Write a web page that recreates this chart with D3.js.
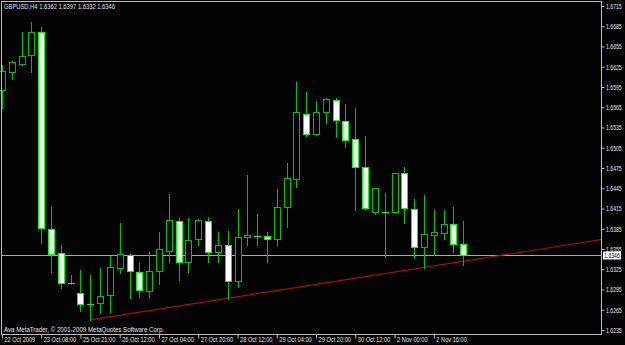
<!DOCTYPE html>
<html><head><meta charset="utf-8">
<script src="https://cdn.jsdelivr.net/npm/d3@7/dist/d3.min.js"></script>
<style>html,body{margin:0;padding:0;background:#030303;}svg{display:block;}</style>
</head><body><svg id="c" width="625" height="345"></svg>
<script>
const symbol = "GBPUSD,H4";
const times = ["2009.10.22 16:00","2009.10.22 20:00","2009.10.23 00:00","2009.10.23 04:00","2009.10.23 08:00","2009.10.23 12:00","2009.10.23 16:00","2009.10.23 20:00","2009.10.25 21:00","2009.10.26 00:00","2009.10.26 04:00","2009.10.26 08:00","2009.10.26 12:00","2009.10.26 16:00","2009.10.26 20:00","2009.10.27 00:00","2009.10.27 04:00","2009.10.27 08:00","2009.10.27 12:00","2009.10.27 16:00","2009.10.27 20:00","2009.10.28 00:00","2009.10.28 04:00","2009.10.28 08:00","2009.10.28 12:00","2009.10.28 16:00","2009.10.28 20:00","2009.10.29 00:00","2009.10.29 04:00","2009.10.29 08:00","2009.10.29 12:00","2009.10.29 16:00","2009.10.29 20:00","2009.10.30 00:00","2009.10.30 04:00","2009.10.30 08:00","2009.10.30 12:00","2009.10.30 16:00","2009.10.30 20:00","2009.11.01 21:00","2009.11.02 00:00","2009.11.02 04:00","2009.11.02 08:00","2009.11.02 12:00","2009.11.02 16:00","2009.11.02 20:00","2009.11.03 00:00","2009.11.03 04:00"];
const open  = [1.6591,1.6617,1.6629,1.6642,1.6676,1.6385,1.6349,1.6305,1.6290,1.6274,1.6275,1.6287,1.6327,1.6346,1.6321,1.6293,1.6322,1.6352,1.6396,1.6336,1.6370,1.6396,1.6351,1.6361,1.6308,1.6373,1.6374,1.6374,1.6370,1.6417,1.6459,1.6555,1.6525,1.6558,1.6576,1.6545,1.6518,1.6476,1.6410,1.6410,1.6410,1.6467,1.6415,1.6358,1.6376,1.6379,1.6392,1.6362];
const high  = [1.6628,1.6633,1.6677,1.6691,1.6684,1.6417,1.6361,1.6317,1.6324,1.6317,1.6327,1.6345,1.6393,1.6347,1.6334,1.6351,1.6380,1.6436,1.6401,1.6401,1.6399,1.6402,1.6380,1.6382,1.6414,1.6465,1.6407,1.6380,1.6444,1.6482,1.6602,1.6588,1.6574,1.6579,1.6578,1.6570,1.6564,1.6522,1.6446,1.6438,1.6468,1.6476,1.6429,1.6435,1.6413,1.6413,1.6417,1.6397];
const low   = [1.6564,1.6607,1.6628,1.6617,1.6364,1.6321,1.6297,1.6303,1.6263,1.6250,1.6260,1.6262,1.6319,1.6282,1.6284,1.6284,1.6303,1.6336,1.6309,1.6321,1.6361,1.6336,1.6336,1.6281,1.6299,1.6361,1.6361,1.6336,1.6361,1.6388,1.6447,1.6522,1.6524,1.6542,1.6521,1.6506,1.6413,1.6414,1.6407,1.6343,1.6408,1.6393,1.6342,1.6327,1.6346,1.6370,1.6351,1.6332];
const close = [1.6619,1.6632,1.6641,1.6676,1.6386,1.6348,1.6305,1.6304,1.6274,1.6274,1.6285,1.6328,1.6348,1.6322,1.6294,1.6322,1.6355,1.6398,1.6336,1.6368,1.6398,1.6351,1.6361,1.6308,1.6373,1.6376,1.6374,1.6370,1.6417,1.6460,1.6558,1.6525,1.6558,1.6577,1.6546,1.6517,1.6476,1.6416,1.6445,1.6410,1.6467,1.6416,1.6358,1.6377,1.6380,1.6392,1.6362,1.6346];
const priceTicks = [1.6715,1.6685,1.6655,1.6625,1.6595,1.6565,1.6535,1.6505,1.6475,1.6445,1.6415,1.6385,1.6355,1.6325,1.6295,1.6265,1.6235];
const timeTickIndex = [0,4,8,12,16,20,24,28,32,36,40,44];
const timeTickLabels = ["22 Oct 2009","23 Oct 08:00","25 Oct 21:00","26 Oct 12:00","27 Oct 04:00","27 Oct 20:00","28 Oct 12:00","29 Oct 04:00","29 Oct 20:00","30 Oct 12:00","2 Nov 00:00","2 Nov 16:00"];
const trendIndex = [9, 23];
const trendPrice = [1.6250, 1.6282];
const copyright = "Ava MetaTrader, \u00a9 2001-2009 MetaQuotes Software Corp.";

const W = 625, H = 345;
const plotL = 1.5, plotR = 601.5, plotT = 1.5, plotB = 334.5;
const svg = d3.select("#c");
svg.append("rect").attr("width", W).attr("height", H).attr("fill", "#030303");

const x = d3.scaleLinear().domain([0, times.length - 1]).range([1.9, 463.3]);
const y = d3.scaleLinear().domain([1.6235, 1.6715]).range([330, 6]);

const bars = times.map((t, i) => ({t, i, o: open[i], h: high[i], l: low[i], c: close[i]}));
const FONT = "'Liberation Sans', Arial, sans-serif";
const TXT = "#e6e6e6";
const G_DIM = "#00c000", G_BRIGHT = "#00ff00";

const clip = svg.append("clipPath").attr("id", "plot").append("rect")
  .attr("x", 0).attr("y", plotT).attr("width", plotR).attr("height", plotB - plotT);
const g = svg.append("g").attr("clip-path", "url(#plot)");

// current price line
g.append("line")
  .attr("x1", plotL).attr("x2", plotR)
  .attr("y1", Math.round(y(close[close.length - 1])) + 0.5)
  .attr("y2", Math.round(y(close[close.length - 1])) + 0.5)
  .attr("stroke", "#a8a8a8").attr("stroke-width", 1);

// trend line (ray)
const slope = (trendPrice[1] - trendPrice[0]) / (trendIndex[1] - trendIndex[0]);
const endIdx = x.invert(plotR);
g.append("line")
  .attr("x1", x(trendIndex[0])).attr("y1", y(trendPrice[0]))
  .attr("x2", x(endIdx)).attr("y2", y(trendPrice[0] + slope * (endIdx - trendIndex[0])))
  .attr("stroke", "#b00c0c").attr("stroke-width", 1.1);

// candles
const cg = g.selectAll("g.candle").data(bars).join("g").attr("class", "candle");
cg.append("line")
  .attr("x1", d => Math.round(x(d.i)) + 0.5).attr("x2", d => Math.round(x(d.i)) + 0.5)
  .attr("y1", d => Math.round(y(d.h))).attr("y2", d => Math.round(y(d.l)) + 1)
  .attr("stroke", G_DIM).attr("stroke-width", 1);
cg.each(function(d) {
  const sel = d3.select(this);
  const cx = Math.round(x(d.i));
  const top = Math.round(y(Math.max(d.o, d.c)));
  const bot = Math.round(y(Math.min(d.o, d.c)));
  const bear = d.c < d.o;
  if (bot - top < 1) {
    sel.append("line").attr("x1", cx - 3).attr("x2", cx + 4)
      .attr("y1", top + 0.5).attr("y2", top + 0.5)
      .attr("stroke", G_BRIGHT).attr("stroke-width", 1);
  } else {
    sel.append("rect").attr("x", cx - 2.5).attr("y", top + 0.5)
      .attr("width", 6).attr("height", bot - top)
      .attr("fill", bear ? "#ffffff" : "#030303")
      .attr("stroke", bear ? G_BRIGHT : G_DIM).attr("stroke-width", 1);
  }
});

// borders
svg.append("rect").attr("x", plotL).attr("y", plotT)
  .attr("width", plotR - plotL).attr("height", plotB - plotT)
  .attr("fill", "none").attr("stroke", "#bdbdbd").attr("stroke-width", 1);

// price axis
const ya = svg.append("g").attr("transform", `translate(${plotR},0)`)
  .call(d3.axisRight(y).tickValues(priceTicks).tickFormat(d3.format(".4f")).tickSize(3).tickPadding(1));
ya.select(".domain").remove();
ya.selectAll(".tick line").attr("stroke", "#bdbdbd");
ya.selectAll(".tick text").attr("fill", TXT).attr("font-family", FONT).attr("font-size", 6.6)
  .attr("x", null).attr("dy", null)
  .attr("transform", "translate(4.5,2.4) scale(0.78,1)");

// time axis
const xa = svg.append("g").attr("transform", `translate(0,${plotB})`)
  .call(d3.axisBottom(x).tickValues(timeTickIndex).tickFormat((d, k) => timeTickLabels[k]).tickSize(4).tickPadding(0));
xa.select(".domain").remove();
xa.selectAll(".tick line").attr("stroke", "#bdbdbd");
xa.selectAll(".tick text").attr("fill", TXT).attr("font-family", FONT).attr("font-size", 7)
  .attr("text-anchor", "start").attr("x", null).attr("y", null).attr("dy", null)
  .attr("transform", "translate(2,7.6) scale(0.81,1)");

// header
svg.append("text").attr("x", 4).attr("y", 9.2).attr("fill", TXT)
  .attr("font-family", FONT).attr("font-size", 7)
  .attr("textLength", 111).attr("lengthAdjust", "spacingAndGlyphs")
  .text(`${symbol} ${d3.format(".4f")(open[47])} ${d3.format(".4f")(high[47])} ${d3.format(".4f")(low[47])} ${d3.format(".4f")(close[47])}`);

// copyright
svg.append("text").attr("x", 4).attr("y", 331.5).attr("fill", TXT)
  .attr("font-family", FONT).attr("font-size", 7)
  .attr("textLength", 160).attr("lengthAdjust", "spacingAndGlyphs")
  .text(copyright);

// current price label
const cy = Math.round(y(close[47])) + 0.5;
svg.append("rect").attr("x", 603).attr("y", cy - 4).attr("width", 18).attr("height", 8).attr("fill", "#ffffff");
svg.append("text").attr("x", 612).attr("y", cy + 2.4).attr("fill", "#000")
  .attr("font-family", FONT).attr("font-size", 6.6).attr("text-anchor", "middle")
  .attr("textLength", 15.5).attr("lengthAdjust", "spacingAndGlyphs")
  .text(d3.format(".4f")(close[47]));
</script></body></html>
